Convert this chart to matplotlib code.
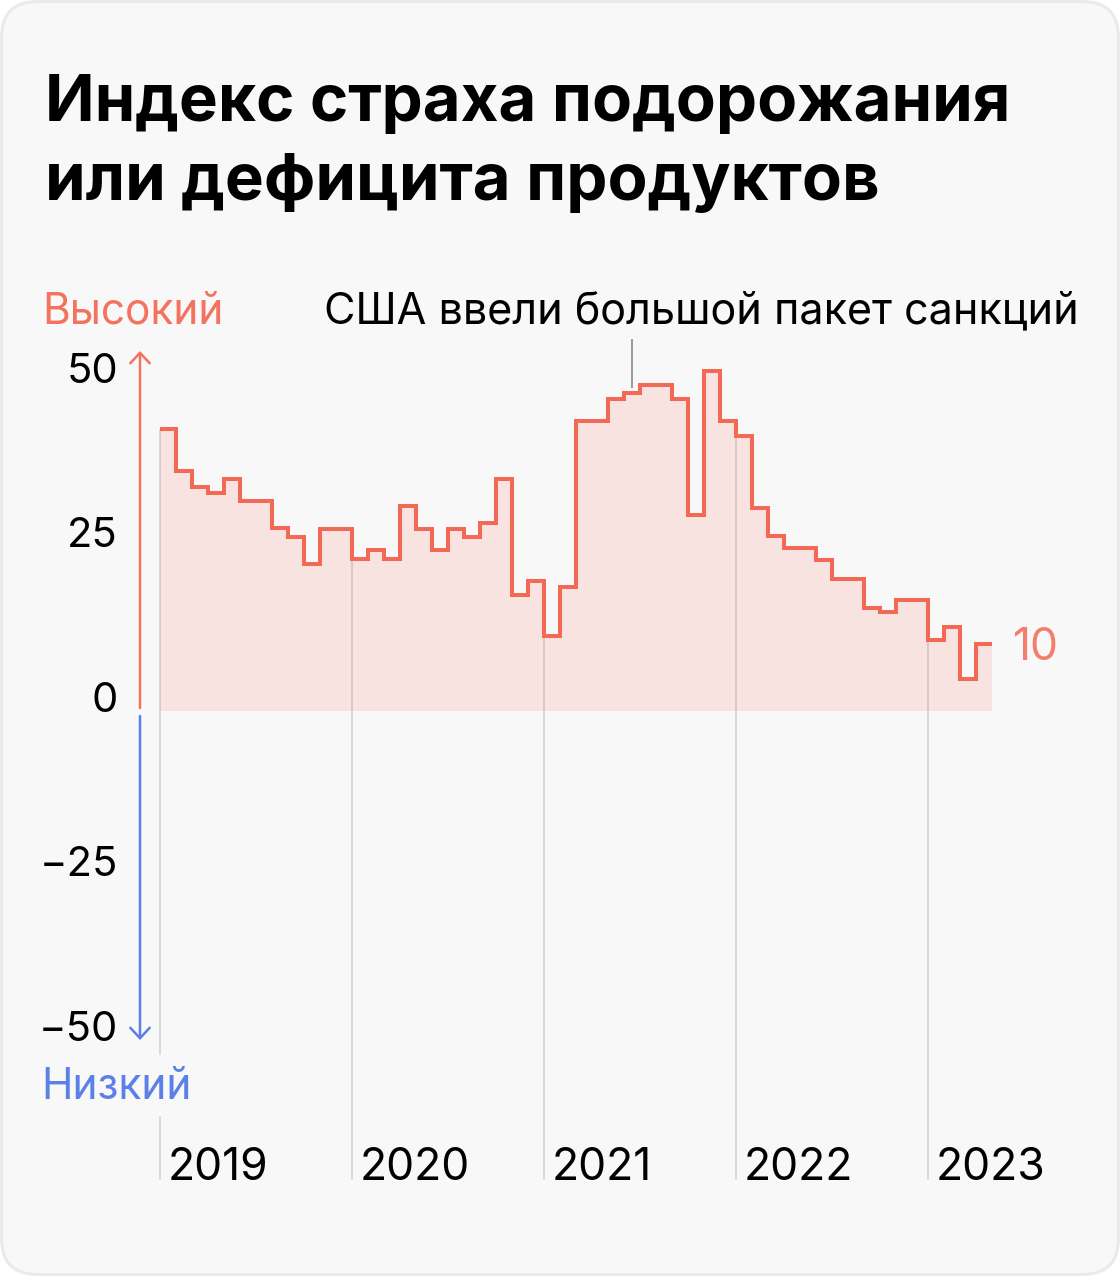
import matplotlib
matplotlib.use("Agg")
import matplotlib.pyplot as plt
import numpy as np
from matplotlib.patches import FancyBboxPatch

# ---- data: monthly index, Jan 2019 .. Apr 2023 ----
values = [42.8, 36.5, 34.1, 33.2, 35.3, 31.9, 31.9, 27.8, 26.5, 22.3, 27.7, 27.7,
          23.1, 24.4, 23.1, 31.1, 27.7, 24.4, 27.7, 26.5, 28.6, 35.3, 17.7, 19.8,
          11.4, 18.9, 44.1, 44.1, 47.4, 48.3, 49.5, 49.5, 47.4, 29.8, 51.6, 44.1,
          41.8, 30.9, 26.6, 24.8, 24.8, 23.0, 20.0, 20.0, 15.7, 15.1, 16.9, 16.9,
          10.8, 12.7, 4.8, 10.2]
years = ["2019", "2020", "2021", "2022", "2023"]
year_pos = [0, 12, 24, 36, 48]
yticks = [50, 25, 0, -25, -50]
ytick_labels = ["50", "25", "0", "\u221225", "\u221250"]
last_label = "10"
note_month = 29.5
note_text = "США ввели большой пакет санкций"

# ---- colours ----
LINE = "#F26A56"
FILL = "#F8E3E1"
RED_T = "#F3735F"
BLUE = "#5B80E8"
INK = "#000000"
BG = "#F8F8F8"

plt.rcParams["font.family"] = ["Inter", "DejaVu Sans"]

W, H = 1120, 1276
fig = plt.figure(figsize=(W / 100, H / 100), dpi=100, facecolor="white")

# rounded card
card = FancyBboxPatch((0.015, 0.015), W / 100 - 0.03, H / 100 - 0.03,
                      boxstyle="round,pad=0,rounding_size=0.36",
                      transform=fig.dpi_scale_trans, facecolor=BG,
                      edgecolor="#EAEAEA", lw=2.2, zorder=-1)
fig.patches.append(card)

# pixel layout: month 0 at x=160, 16 px/month; value 0 at y=711, 6.58 px/unit
X0, PXM, Y0, PYU = 160, 16, 711, 6.58
def mx(px): return (px - X0) / PXM
def vy(py): return (Y0 - py) / PYU

ax = fig.add_axes([0, 0, 1, 1])
ax.set_xlim(mx(0), mx(W))
ax.set_ylim(vy(H), vy(0))
ax.axis("off")

n = len(values)
edges = np.arange(n + 1)

# fill + step line
ax.stairs(values, edges, baseline=0, fill=True, color=FILL, zorder=1, lw=0)
ax.stairs(values, edges, baseline=None, color=LINE, lw=2.9, zorder=3)

# year gridlines from the step down to the labels
grid_bottom = vy(1180)
gcol = (0, 0, 0, 0.12)
for p, lab in zip(year_pos, years):
    top = values[p] if p == 0 else max(values[p - 1], values[p])
    if p == 0:
        ax.vlines(p, vy(1055), top, color=gcol, lw=1.4, zorder=2)
        ax.vlines(p, grid_bottom, vy(1116), color=gcol, lw=1.4, zorder=2)
    else:
        ax.vlines(p, grid_bottom, top, color=gcol, lw=1.4, zorder=2)
    ax.text(p + 8 / PXM, grid_bottom, lab, ha="left", va="baseline",
            fontsize=32, color=INK)

# y tick labels
for v, lab in zip(yticks, ytick_labels):
    ax.text(mx(118), v - 1 / PYU, lab, ha="right", va="baseline",
            fontsize=30, color=INK)

# up / down arrows
ax_x = mx(140)
ax.annotate("", xy=(ax_x, vy(351)), xytext=(ax_x, vy(708)),
            arrowprops=dict(arrowstyle="->,head_length=0.75,head_width=0.7",
                            color=RED_T, lw=1.8, shrinkA=0, shrinkB=0,
                            mutation_scale=10))
ax.annotate("", xy=(ax_x, vy(1040)), xytext=(ax_x, vy(716)),
            arrowprops=dict(arrowstyle="->,head_length=0.75,head_width=0.7",
                            color=BLUE, lw=1.8, shrinkA=0, shrinkB=0,
                            mutation_scale=10))
ax.text(mx(42), vy(324), "Высокий", ha="left", va="baseline",
        fontsize=30.5, color=RED_T)
ax.text(mx(41), vy(1099), "Низкий", ha="left", va="baseline",
        fontsize=30.5, color=BLUE)

# last value label
ax.text(n + (1013 - 992) / PXM, vy(660), last_label, ha="left", va="baseline",
        fontsize=32, color="#F47E6C")

# annotation
ax.vlines(note_month, vy(388), vy(339), color="#7F7F7F", lw=1.1, zorder=4)
ax.text(mx(701), vy(323), note_text, ha="center", va="baseline",
        fontsize=31, color=INK)

# title
fig.text(45 / W, 1 - 121 / H, "Индекс страха подорожания", ha="left",
         va="baseline", fontsize=47, fontweight="bold", color=INK)
fig.text(45 / W, 1 - 200 / H, "или дефицита продуктов", ha="left",
         va="baseline", fontsize=47, fontweight="bold", color=INK)

fig.savefig("out.png", dpi=100, facecolor="white")
